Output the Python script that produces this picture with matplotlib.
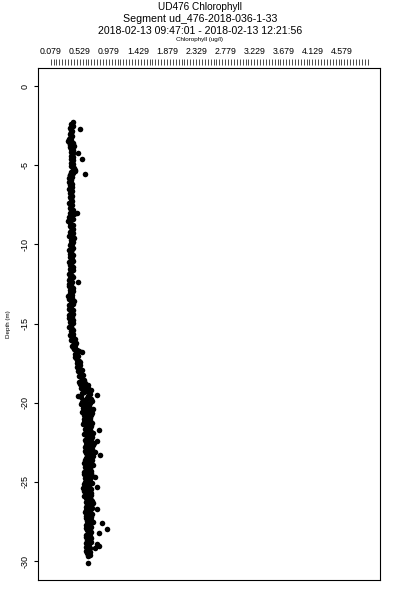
import numpy as np
import matplotlib
matplotlib.use("Agg")
import matplotlib.pyplot as plt

plt.rcParams["font.family"] = ["Liberation Sans", "DejaVu Sans"]

TITLE = "UD476 Chlorophyll"
SEGMENT = "Segment ud_476-2018-036-1-33"
TIME_RANGE = "2018-02-13 09:47:01 - 2018-02-13 12:21:56"
X_LABEL = "Chlorophyll (ug/l)"
Y_LABEL = "Depth (m)"

x_tick_labels = ["0.079", "0.529", "0.979", "1.429", "1.879", "2.329",
                 "2.779", "3.229", "3.679", "4.129", "4.579"]
y_ticks = [0, -5, -10, -15, -20, -25, -30]

# upper, well mixed part of the profile (downcast + upcast)
depth_upper = [-2.3, -2.45, -2.6, -2.75, -2.9, -3.05, -3.2, -3.35, -3.5, -3.6,
               -3.7, -3.8, -3.95, -4.1, -4.25, -4.4, -4.55, -4.7, -4.85, -5.0,
               -5.15, -5.3, -5.4, -5.5, -5.65, -5.8, -5.95, -6.1, -6.25, -6.4,
               -6.55, -6.7, -6.85, -7.0, -7.15, -7.3, -7.45, -7.6, -7.75, -7.9,
               -8.0, -8.1, -8.25, -8.4, -8.55, -8.7, -8.85, -9.0, -9.15, -9.3,
               -9.45, -9.6, -9.75, -9.9, -10.05, -10.2, -10.35, -10.5, -10.65, -10.8,
               -10.95, -11.1, -11.25, -11.4, -11.55, -11.7, -11.85, -12.0, -12.15, -12.3,
               -12.4, -12.5, -12.65, -12.8, -12.95, -13.1, -13.25, -13.4, -13.55, -13.7,
               -13.85, -14.0, -14.15, -14.3, -14.45, -14.6, -14.75, -14.9, -15.05, -15.2,
               -15.35, -15.5, -2.7, -4.2, -4.6, -5.55,
               -2.38, -2.53, -2.68, -2.83, -2.98, -3.13, -3.28, -3.43, -3.55, -3.65,
               -3.75, -3.88, -4.03, -4.18, -4.33, -4.48, -4.63, -4.78, -4.93, -5.08,
               -5.23, -5.35, -5.45, -5.6, -5.73, -5.88, -6.03, -6.18, -6.33, -6.48,
               -6.63, -6.78, -6.93, -7.08, -7.23, -7.38, -7.53, -7.68, -7.83, -8.05,
               -8.18, -8.33, -8.48, -8.63, -8.78, -8.93, -9.08, -9.23, -9.38, -9.53,
               -9.68, -9.83, -9.98, -10.13, -10.28, -10.43, -10.58, -10.73, -10.88, -11.03,
               -11.18, -11.33, -11.48, -11.63, -11.78, -11.93, -12.08, -12.23, -12.35, -12.58,
               -12.73, -12.88, -13.03, -13.18, -13.33, -13.48, -13.63, -13.78, -13.93, -14.08,
               -14.23, -14.38, -14.53, -14.68, -14.83, -14.98, -15.13, -15.28, -15.43]
chl_upper = [0.42, 0.41, 0.40, 0.39, 0.40, 0.38, 0.39, 0.37, 0.35, 0.42,
             0.38, 0.44, 0.40, 0.41, 0.42, 0.40, 0.41, 0.42, 0.40, 0.41,
             0.44, 0.46, 0.40, 0.43, 0.38, 0.36, 0.39, 0.40, 0.38, 0.41,
             0.39, 0.40, 0.39, 0.38, 0.40, 0.39, 0.38, 0.40, 0.39, 0.41,
             0.48, 0.44, 0.36, 0.42, 0.35, 0.40, 0.38, 0.43, 0.39, 0.42,
             0.37, 0.44, 0.39, 0.40, 0.38, 0.42, 0.37, 0.40, 0.43, 0.38,
             0.41, 0.37, 0.40, 0.42, 0.38, 0.40, 0.36, 0.41, 0.38, 0.40,
             0.50, 0.37, 0.36, 0.40, 0.43, 0.38, 0.35, 0.41, 0.44, 0.39,
             0.37, 0.40, 0.42, 0.39, 0.37, 0.41, 0.43, 0.38, 0.40, 0.37,
             0.41, 0.39, 0.53, 0.50, 0.56, 0.61,
             0.40, 0.42, 0.38, 0.41, 0.39, 0.41, 0.38, 0.40, 0.37, 0.40,
             0.43, 0.38, 0.42, 0.39, 0.41, 0.43, 0.39, 0.41, 0.43, 0.39,
             0.42, 0.45, 0.41, 0.38, 0.41, 0.38, 0.37, 0.41, 0.39, 0.37,
             0.41, 0.38, 0.41, 0.39, 0.41, 0.37, 0.41, 0.38, 0.42, 0.38,
             0.40, 0.38, 0.37, 0.38, 0.42, 0.40, 0.41, 0.38, 0.40, 0.42,
             0.41, 0.43, 0.41, 0.39, 0.41, 0.39, 0.38, 0.41, 0.39, 0.43,
             0.39, 0.38, 0.40, 0.42, 0.38, 0.39, 0.42, 0.37, 0.41, 0.40,
             0.42, 0.38, 0.40, 0.41, 0.38, 0.37, 0.41, 0.42, 0.38, 0.37,
             0.40, 0.42, 0.39, 0.37, 0.40, 0.42, 0.39, 0.40, 0.43]

# transition zone
depth_mid = [-15.65, -15.8, -15.95, -16.1, -16.25, -16.4, -16.55, -16.7, -16.8, -16.9,
             -17.05, -17.2, -17.35, -17.5, -17.65, -17.8, -17.95, -18.1, -18.25, -18.4,
             -18.55, -18.7, -18.8, -18.9, -19.0, -19.1, -19.2,
             -15.73, -15.88, -16.03, -16.18, -16.33, -16.48, -16.63, -16.75, -16.98, -17.13,
             -17.28, -17.43, -17.58, -17.73, -17.88, -18.03, -18.18, -18.33, -18.48, -18.63,
             -18.75, -18.85, -18.95, -19.05, -19.15, -19.25]
chl_mid = [0.42, 0.40, 0.45, 0.43, 0.47, 0.41, 0.45, 0.48, 0.56, 0.46,
           0.50, 0.47, 0.52, 0.49, 0.54, 0.51, 0.56, 0.53, 0.58, 0.55,
           0.60, 0.52, 0.57, 0.66, 0.62, 0.55, 0.70,
           0.38, 0.43, 0.40, 0.44, 0.46, 0.43, 0.44, 0.51, 0.49, 0.45,
           0.49, 0.54, 0.50, 0.48, 0.53, 0.50, 0.55, 0.52, 0.57, 0.56,
           0.61, 0.54, 0.59, 0.66, 0.60, 0.64]

# deeper, more scattered part
depth_lower = [-19.35, -19.45, -19.5, -19.6, -19.7, -19.8, -19.9, -20.0, -20.1, -20.2,
               -20.3, -20.4, -20.5, -20.6, -20.7, -20.8, -20.9, -21.0, -21.1, -21.2,
               -21.3, -21.4, -21.5, -21.6, -21.7, -21.8, -21.9, -22.0, -22.1, -22.2,
               -22.3, -22.4, -22.5, -22.6, -22.7, -22.8, -22.9, -23.0, -23.1, -23.2,
               -23.3, -23.4, -23.5, -23.6, -23.7, -23.8, -23.9, -24.0, -24.1, -24.2,
               -24.3, -24.4, -24.5, -24.6, -24.7, -24.8, -24.9, -25.0, -25.1, -25.2,
               -25.3, -25.4, -25.5, -25.6, -25.7, -25.8, -25.9, -26.0, -26.1, -26.2,
               -26.3, -26.4, -26.5, -26.6, -26.7, -26.8, -26.9, -27.0, -27.1, -27.2,
               -27.3, -27.4, -27.5, -27.6, -27.7, -27.8, -27.9, -28.0, -28.1, -28.2,
               -28.3, -28.4, -28.5, -28.6, -28.7, -28.8, -28.9, -29.0, -29.05, -29.1,
               -29.2, -29.3, -29.4, -29.5, -29.6, -29.7, -30.1,
               -19.4, -19.55, -19.65, -19.75, -19.85, -19.95, -20.05, -20.15, -20.25, -20.35,
               -20.45, -20.55, -20.65, -20.75, -20.85, -20.95, -21.05, -21.15, -21.25, -21.35,
               -21.45, -21.55, -21.65, -21.75, -21.85, -21.95, -22.05, -22.15, -22.25, -22.35,
               -22.45, -22.55, -22.65, -22.75, -22.85, -22.95, -23.05, -23.15, -23.25, -23.35,
               -23.45, -23.55, -23.65, -23.75, -23.85, -23.95, -24.05, -24.15, -24.25, -24.35,
               -24.45, -24.55, -24.65, -24.75, -24.85, -24.95, -25.05, -25.15, -25.25, -25.35,
               -25.45, -25.55, -25.65, -25.75, -25.85, -25.95, -26.05, -26.15, -26.25, -26.35,
               -26.45, -26.55, -26.65, -26.75, -26.85, -26.95, -27.05, -27.15, -27.25, -27.35,
               -27.45, -27.55, -27.65, -27.75, -27.85, -27.95, -28.05, -28.15, -28.25, -28.35,
               -28.45, -28.55, -28.65, -28.75, -28.85, -28.95, -29.15, -29.25, -29.35, -29.45,
               -29.55, -29.65]
chl_lower = [0.60, 0.68, 0.79, 0.50, 0.64, 0.58, 0.72, 0.62, 0.55, 0.67,
             0.60, 0.74, 0.63, 0.57, 0.66, 0.70, 0.61, 0.64, 0.68, 0.59,
             0.72, 0.65, 0.62, 0.69, 0.82, 0.63, 0.74, 0.60, 0.67, 0.64,
             0.70, 0.79, 0.62, 0.66, 0.73, 0.61, 0.68, 0.65, 0.76, 0.63,
             0.84, 0.69, 0.62, 0.72, 0.66, 0.60, 0.70, 0.64, 0.67, 0.62,
             0.71, 0.65, 0.59, 0.68, 0.77, 0.63, 0.66, 0.61, 0.69, 0.64,
             0.80, 0.58, 0.66, 0.62, 0.70, 0.65, 0.60, 0.68, 0.64, 0.72,
             0.62, 0.67, 0.70, 0.63, 0.79, 0.66, 0.61, 0.70, 0.65, 0.68,
             0.63, 0.71, 0.66, 0.88, 0.64, 0.69, 0.62, 0.95, 0.67, 0.82,
             0.65, 0.69, 0.63, 0.67, 0.64, 0.70, 0.79, 0.66, 0.83, 0.63,
             0.77, 0.65, 0.68, 0.64, 0.67, 0.65, 0.65,
             0.56, 0.66, 0.55, 0.70, 0.62, 0.57, 0.69, 0.60, 0.64, 0.58,
             0.68, 0.61, 0.72, 0.59, 0.65, 0.69, 0.60, 0.66, 0.63, 0.58,
             0.70, 0.66, 0.61, 0.68, 0.71, 0.65, 0.62, 0.72, 0.67, 0.61,
             0.69, 0.75, 0.63, 0.68, 0.64, 0.72, 0.61, 0.69, 0.66, 0.73,
             0.64, 0.68, 0.61, 0.70, 0.65, 0.73, 0.61, 0.69, 0.66, 0.60,
             0.70, 0.64, 0.72, 0.61, 0.68, 0.65, 0.72, 0.60, 0.67, 0.63,
             0.70, 0.59, 0.67, 0.63, 0.71, 0.66, 0.62, 0.70, 0.66, 0.74,
             0.64, 0.68, 0.72, 0.62, 0.69, 0.66, 0.72, 0.62, 0.70, 0.67,
             0.64, 0.73, 0.68, 0.62, 0.71, 0.66, 0.64, 0.70, 0.68, 0.63,
             0.66, 0.70, 0.66, 0.68, 0.63, 0.67, 0.69, 0.66, 0.63, 0.67,
             0.66, 0.69]

depth = depth_upper + depth_mid + depth_lower
chl = chl_upper + chl_mid + chl_lower

fig = plt.figure(figsize=(4, 6), dpi=100)
ax = fig.add_axes([0.095, 0.0333, 0.855, 0.8534])

ax.plot(chl, depth, "o", color="black", markersize=4.0, markeredgewidth=0)

ax.set_xlim(-0.117, 5.175)
ax.set_ylim(-31.2, 1.14)
for s in ax.spines.values():
    s.set_linewidth(0.8)

ax.set_xticks([])
ax.set_yticks(y_ticks)
ax.set_yticklabels([str(v) for v in y_ticks], rotation=90, va="center", fontsize=6.5)
ax.tick_params(axis="y", direction="out", length=3, width=0.8, pad=3)
ax.set_ylabel(Y_LABEL, fontsize=4.5, labelpad=7)

# top axis: fine ticks, labelled every tenth one
top = ax.secondary_xaxis(1.006)
top_ticks = 0.079 + 0.045 * np.arange(110)
top.set_xticks(top_ticks)
labels = [""] * len(top_ticks)
for i, lab in enumerate(x_tick_labels):
    labels[i * 10] = lab
top.set_xticklabels(labels, fontsize=6.3)
top.tick_params(axis="x", direction="out", length=4, width=0.5, pad=2.5)
top.spines["top"].set_visible(False)

fig.text(0.5, 1 - 7.5 / 600, TITLE, ha="center", va="center", fontsize=7.2)
fig.text(0.5, 1 - 18.5 / 600, SEGMENT, ha="center", va="center", fontsize=7.7)
fig.text(0.5, 1 - 31 / 600, TIME_RANGE, ha="center", va="center", fontsize=7.6)
fig.text(0.5, 1 - 39.5 / 600, X_LABEL, ha="center", va="center", fontsize=4.5)

fig.savefig("out.png", dpi=100)
